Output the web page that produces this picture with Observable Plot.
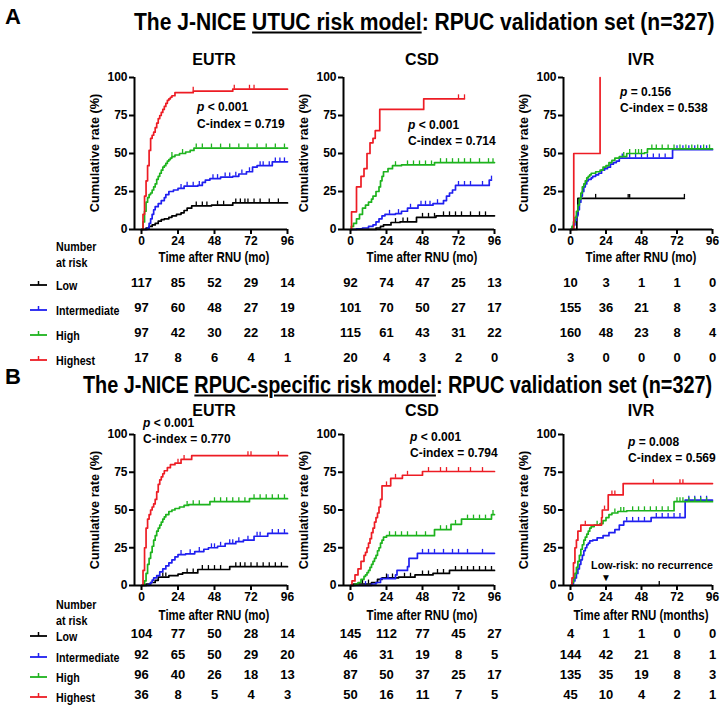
<!DOCTYPE html>
<html><head><meta charset="utf-8">
<script src="https://cdn.jsdelivr.net/npm/d3@7"></script>
<script src="https://cdn.jsdelivr.net/npm/@observablehq/plot@0.6"></script>
<style>
body{margin:0;background:#fff;}
#root{position:relative;width:721px;height:707px;overflow:hidden;background:#fff;font-family:"Liberation Sans",Arial,sans-serif;}
.lbl{position:absolute;white-space:nowrap;line-height:1;color:#000;}
svg{overflow:visible;}
</style></head><body><div id="root"></div>
<script>
// ---------- DATA ----------
const groups = ["Low", "Intermediate", "High", "Highest"];
const groupColors = ["#000000", "#1f1ff0", "#1db31d", "#ed1c24"];
const timeTicks = [0, 24, 48, 72, 96];
const rateTicks = [0, 25, 50, 75, 100];

// Panel A: UTUC risk model — curves as [month, cumulative %] (step-after)
const aEutrLow = [[0,0],[3,1],[5,2],[7,3],[9,4],[11,5.5],[13,6.5],[15,7],[18,8],[20,9],[23,10],[26,11],[28,12.5],[30,14],[33,15.5],[46,16],[60,17.5],[96,17.5]];
const aEutrInt = [[0,0],[4,1],[5,4],[6,7],[7,10],[8,13],[9,15],[11,17],[13,19],[15,21],[16,23],[18,25],[21,26],[24,27],[28,28.5],[37,29],[40,31],[42,32.5],[45,33.5],[52,34.5],[60,35],[64,36.5],[69,38],[73,41],[76,42],[86,44.5],[96,44.5]];
const aEutrHigh = [[0,0],[1,5],[2,12],[3,18],[4,21],[5,23],[6,24],[7,26],[8,28],[9,30],[10,33],[11,35],[12,37],[13,39],[14,41],[15,42],[16,43.5],[17,45],[18,46],[19,47],[20,48],[22,49],[25,50],[29,51],[32,52],[34.5,53.6],[96,53.6]];
const aEutrHighest = [[0,0],[1,10],[2,22],[3,32],[4,42],[5,52],[6,60],[7,62],[8,64],[9,67],[10,70],[11,73],[12,75],[13,77],[14,79],[15,81],[16,83],[17,85],[18,86],[19,87],[20,88],[22,90],[34,91],[60,92.3],[96,92.3]];
const aEutrCens = [[36,40,43,50,54,62,65,68,70,74,78,84,90],[26,30,34,38,47,50,55,58,62,66,71,78,80,84,88,91,94],[20,27,36,40,46,52,58,64,70,76,82,88,94],[34,61,71,74]];

const aCsdLow = [[0,0],[17,1],[20,2],[22,3],[27,4.6],[33,5],[44,8],[57,9],[96,9]];
const aCsdInt = [[0,0],[4,0.5],[8,1],[12,2],[15,3],[17,5],[19,7],[21,9],[23,10],[30,10.5],[34,12],[38,14],[45,16],[55,17],[62,19],[64,22],[66,24],[68,26],[70,29],[92.5,32.5],[94,32.5]];
const aCsdHigh = [[0,0],[0.5,2],[2,4],[4,7],[6,10],[8,14],[10,16],[12,18],[14,20],[15,22],[17,25],[19,28],[20,32],[21,35],[22,38],[25,40],[28,42],[34,42.5],[56,44],[96,44]];
const aCsdHighest = [[0,0],[0.7,11.6],[4,28],[7,35],[9,40],[11,50],[13,57],[15,60],[16.5,65],[19.5,79],[48.8,86],[76,86]];
const aCsdCens = [[30,35,38,48,52,56,62,66,70,74,80,86,90],[26,32,40,47,50,53,58,72,76,80,88,94],[30,38,42,46,50,54,60,64,68,72,76,80,86,92,95],[72,76]];

const aIvrLow = [[0,0],[4.3,10],[5,20.5],[77,20.5]];
const aIvrInt = [[0,0],[1,1],[2,3],[3,6],[4,9],[5,13],[6,18],[7,22],[8,25],[9,28],[10,30],[11,32],[12,33],[14,34],[15,35],[17,36],[19,37],[21,39],[23,40],[25,41],[27,43],[29,44],[31,45],[33,47],[69,52.5],[96,52.5]];
const aIvrHigh = [[0,0],[1,2],[2,5],[3,8],[4,12],[5,16],[6,20],[7,24],[8,28],[9,30],[10,32],[11,34],[12,35],[13,36],[14,37],[17,38],[20,39],[22,41],[24,42],[26,44],[28,45.5],[30,47],[33,48],[38,50],[50,50.5],[52,53],[96,53]];
const aIvrHighest = [[0,0],[2.2,50],[20,100]];
const aIvrCens = [[17,39,40,77],[35,40,44,48,52,56,60,64,72,76,80,84,88,92],[36,40,44,46,48,55,58,62,66,70,74,78,82,86,90,94],[]];

// Panel B: RPUC-specific risk model
const bEutrLow = [[0,0],[3,1],[6,2],[9,3.4],[11,5.6],[18,6.5],[24,7.5],[27,8.3],[37,10.6],[58,12.5],[96,12.5]];
const bEutrInt = [[0,0],[5,1],[6,2],[7,3.5],[8,5],[10,6.5],[12,9],[14,11],[16,13],[18,15],[20,17],[22,19],[24,20.5],[29,21],[35,22.5],[41,24],[44,25],[50,26],[55,27.7],[62,29],[67,30],[74,32.6],[83,34.5],[96,34.5]];
const bEutrHigh = [[0,0],[2,3],[3,8],[4,14],[5,18],[6,22],[7,26],[8,30],[9,33],[10,36],[11,38],[12,40],[13,42],[14,44],[15,45.5],[16,47],[18,49],[20,50],[22,51],[25,52],[28,53],[31,53.5],[45,55.5],[71,57.5],[96,57.5]];
const bEutrHighest = [[0,0],[1,10],[2,25],[3,38],[4,44],[5,47],[6,50],[7,52],[8,54],[9,57],[10,62],[11,67],[12,70],[13,72],[14,74],[15,76],[17,78],[19,80],[22,81],[26,83.5],[33,86],[96,86]];
const bEutrCens = [[14,16,30,34,40,44,48,52,62,65,68,72,76,80,84,88,92],[26,32,38,46,48,52,58,60,64,70,76,78,86,90,94],[30,34,38,48,52,56,60,64,68,74,78,82,86,90,94],[24,28,70,72,90]];

const bCsdLow = [[0,0],[2,1],[14,2],[18,4],[21,5],[32,5.5],[43,7],[55,8],[66,10],[96,10]];
const bCsdInt = [[0,0],[14,1],[17,2],[20,4.5],[30,7],[31,10],[38,12.5],[39,18],[44.6,21.3],[96,21.3]];
const bCsdHigh = [[0,0],[3,1],[5,2],[7,4],[9,6],[10,7],[11,8.5],[12,10],[13,12],[14,14],[15,16],[16,18],[17,20],[18,23],[19,25],[20,28],[21,30],[22,32],[24,33],[56,37],[67,40.5],[74,44],[94,47],[96,47]];
const bCsdHighest = [[0,0],[1,3],[3,7],[5,11],[7,16],[9,20],[10,22],[11,25],[12,28],[13,31],[14,35],[15,38],[16,42],[17,45],[18,48],[19,52],[20,57],[21,66],[26.8,71],[34.6,73],[48,75.5],[96,75.5]];
const bCsdCens = [[8,12,24,28,36,40,48,52,58,62,70,74,78,82,86,90,94],[10,25,48,52,56,62,68,72,78,88],[26,30,34,38,44,50,60,64,70,78,82,86,90,95],[24,30,38,52,60,64,72,80,88]];

const bIvrLow = [[0,0],[60,0]];
const bIvrInt = [[0,0],[1,1],[2,3],[3,5],[4,8],[5,11],[6,14],[7,17],[8,20],[9,23],[10,25],[11,27],[12,28],[13,29.5],[15,30],[18,31.5],[22,33],[26,35],[30,37],[33,40],[36,42.5],[54.5,45],[77.5,56.5],[96,56.5]];
const bIvrHigh = [[0,0],[1,2],[2,5],[3,8],[4,12],[5,16],[6,20],[7,24],[8,27],[9,30],[10,32],[11,34],[12,36],[13,38],[14,39],[16,40],[20,41],[22,43],[24,45],[26,47],[28,48],[32,49],[38,49.5],[70,55.5],[96,55.5]];
const bIvrHighest = [[0,0],[1,5],[2,15],[3,25],[4,30],[5,36],[7,40],[21,45],[21.5,50],[25.5,60],[35.6,67.5],[96,67.5]];
const bIvrCens = [[60],[38,42,46,50,58,62,66,70,74,80,84,88,92],[18,30,34,36,42,46,50,54,58,62,66,72,74,76,80,84,88,92],[10,23,28,30,56,74,76]];

// Numbers at risk at 0, 24, 48, 72, 96 months (Low, Intermediate, High, Highest)
const aEutrRisk = [[117,85,52,29,14],[97,60,48,27,19],[97,42,30,22,18],[17,8,6,4,1]];
const aCsdRisk = [[92,74,47,25,13],[101,70,50,27,17],[115,61,43,31,22],[20,4,3,2,0]];
const aIvrRisk = [[10,3,1,1,0],[155,36,21,8,3],[160,48,23,8,4],[3,0,0,0,0]];
const bEutrRisk = [[104,77,50,28,14],[92,65,50,29,20],[96,40,26,18,13],[36,8,5,4,3]];
const bCsdRisk = [[145,112,77,45,27],[46,31,19,8,5],[87,50,37,25,17],[50,16,11,7,5]];
const bIvrRisk = [[4,1,1,0,0],[144,42,21,8,1],[135,35,19,8,3],[45,10,4,2,1]];

const titles = ["The J-NICE ", "UTUC risk model", ": RPUC validation set (n=327)"];
const titlesB = ["The J-NICE ", "RPUC-specific risk model", ": RPUC validation set (n=327)"];
const endpoints = ["EUTR", "CSD", "IVR"];
const stats = [
  [["< 0.001", "0.719"], ["< 0.001", "0.714"], ["= 0.156", "0.538"]],
  [["< 0.001", "0.770"], ["< 0.001", "0.794"], ["= 0.008", "0.569"]]
];

// ---------- LAYOUT ----------
const root = document.getElementById("root");
const ARIAL = '"Liberation Sans",Arial,sans-serif';
const NARROW_SCALE = 0.82;
function place(html, x, y, o = {}) {
  const d = document.createElement("div");
  d.className = "lbl";
  d.innerHTML = html;
  d.style.left = x + "px";
  d.style.top = y + "px";
  d.style.fontSize = (o.size || 13) + "px";
  d.style.fontWeight = o.weight || "bold";
  d.style.fontFamily = ARIAL;
  const anchor = o.anchor || "start";
  const ax = anchor === "middle" ? "-50%" : anchor === "end" ? "-100%" : "0";
  let tf = `translate(${ax},-50%)`;
  if (o.rotate) tf += ` rotate(${o.rotate}deg)`;
  if (o.narrow) {
    tf += ` scaleX(${o.narrow === true ? NARROW_SCALE : o.narrow})`;
    d.style.transformOrigin = anchor === "middle" ? "50% 50%" : anchor === "end" ? "100% 50%" : "0 50%";
  }
  d.style.transform = tf;
  root.appendChild(d);
  return d;
}
// title condensed to span a given horizontal extent
function placeFit(html, x1, x2, y, size) {
  const d = place(html, x1, y, {size});
  const s = (x2 - x1) / d.offsetWidth;
  d.style.transformOrigin = "0 50%";
  d.style.transform = `translate(0,-50%) scaleX(${s})`;
}
function stepAt(curve, t) { let v = 0; for (const [x, y] of curve) if (x <= t) v = y; return v; }

const cols = [{axis: 134, x0: 141, x96: 287}, {axis: 343, x0: 350, x96: 494}, {axis: 563, x0: 570, x96: 712}];
const rowsLayout = [
  {top: 77, bottom: 229, risk: [286, 311, 336, 361], title: 22, tx: [134, 715], sub: 60, xt: 257, num: 246, atr: 262, letter: 17},
  {top: 434, bottom: 585, risk: [637, 658, 678, 698], title: 385, tx: [83, 712], sub: 411, xt: 615, num: 604, atr: 620, letter: 377}
];
const statPos = [
  [[197, 107, 124], [408, 125, 141], [620, 92, 108]],
  [[143, 423, 439], [410, 437, 453], [628, 442, 458]]
];
const panelData = [
  [[[aEutrLow, aEutrInt, aEutrHigh, aEutrHighest], aEutrCens, aEutrRisk],
   [[aCsdLow, aCsdInt, aCsdHigh, aCsdHighest], aCsdCens, aCsdRisk],
   [[aIvrLow, aIvrInt, aIvrHigh, aIvrHighest], aIvrCens, aIvrRisk]],
  [[[bEutrLow, bEutrInt, bEutrHigh, bEutrHighest], bEutrCens, bEutrRisk],
   [[bCsdLow, bCsdInt, bCsdHigh, bCsdHighest], bCsdCens, bCsdRisk],
   [[bIvrLow, bIvrInt, bIvrHigh, bIvrHighest], bIvrCens, bIvrRisk]]
];

rowsLayout.forEach((R, ri) => {
  place(ri === 0 ? "A" : "B", 5, R.letter, {size: 22});
  const t = ri === 0 ? titles : titlesB;
  placeFit(`${t[0]}<u>${t[1]}</u>${t[2]}`, R.tx[0], R.tx[1], R.title, 23);
  place("Number", 56, R.num, {size: 13, narrow: true});
  place("at risk", 56, R.atr, {size: 13, narrow: true});
  groups.forEach((g, gi) => {
    const y = R.risk[gi];
    const s = document.createElementNS("http://www.w3.org/2000/svg", "svg");
    s.setAttribute("width", 20); s.setAttribute("height", 10);
    s.style.position = "absolute"; s.style.left = "29px"; s.style.top = (y - 7) + "px";
    s.innerHTML = `<line x1="1" x2="18" y1="6" y2="6" stroke="${groupColors[gi]}" stroke-width="1.8"/><line x1="9.5" x2="9.5" y1="6" y2="2" stroke="${groupColors[gi]}" stroke-width="1.5"/>`;
    root.appendChild(s);
    place(g, 56, y - 1, {size: 13, narrow: true});
  });

  cols.forEach((C, ci) => {
    const [curves, cens, risk] = panelData[ri][ci];
    const svgLeft = C.axis - 45, mt = 8;
    const width = C.x96 + 9 - svgLeft;
    const mb = R.risk[3] - R.bottom + 10;
    const height = mt + (R.bottom - R.top) + mb;
    const marks = [];
    curves.forEach((cv, gi) => {
      marks.push(Plot.line(cv, {x: d => d[0], y: d => d[1], curve: "step-after", stroke: groupColors[gi], strokeWidth: 1.7}));
      marks.push(Plot.ruleX(cens[gi], {x: d => d, y1: d => stepAt(cv, d), y2: d => stepAt(cv, d) + 2.6, stroke: groupColors[gi], strokeWidth: 1.3}));
    });
    marks.push(Plot.ruleY([0], {strokeWidth: 2}));
    marks.push(Plot.ruleX([0], {dx: -(C.x0 - C.axis), strokeWidth: 2}));
    marks.push(Plot.axisX({ticks: timeTicks, tickSize: 5, tickPadding: 2, strokeWidth: 2, label: null, fontSize: 12, fontWeight: "bold"}));
    marks.push(Plot.axisY({ticks: rateTicks, tickSize: 5, tickPadding: 2, strokeWidth: 2, label: null, fontSize: 12, fontWeight: "bold"}));
    risk.forEach((vals, gi) => {
      const rows = timeTicks.map((tt, k) => ({t: tt, n: vals[k]}));
      marks.push(Plot.text(rows, {x: "t", text: "n", frameAnchor: "bottom", dy: R.risk[gi] - R.bottom, fontSize: 13, fontWeight: "bold", ariaLabel: "risk"}));
    });
    const chart = Plot.plot({
      width, height, marginLeft: 45, marginRight: 9, marginTop: mt, marginBottom: mb,
      x: {domain: [0, 96], insetLeft: C.x0 - C.axis},
      y: {domain: [0, 100]},
      style: {fontFamily: ARIAL, fontSize: "12px", fontWeight: "bold", background: "transparent", color: "#000", overflow: "visible"},
      marks
    });
    // condense the number-at-risk digits like a narrow typeface
    chart.querySelectorAll('g[aria-label="risk"] text').forEach(el => {
      let tr = el.getAttribute("transform");
      if (!tr) {
        tr = `translate(${el.getAttribute("x") || 0},${el.getAttribute("y") || 0})`;
        el.removeAttribute("x"); el.removeAttribute("y");
      }
      el.setAttribute("transform", tr + ` scale(${NARROW_SCALE},1)`);
    });
    chart.style.position = "absolute";
    chart.style.left = svgLeft + "px";
    chart.style.top = (R.top - mt) + "px";
    root.appendChild(chart);

    const cx = (C.x0 + C.x96) / 2;
    place(endpoints[ci], cx, R.sub, {size: 16, anchor: "middle"});
    place("Cumulative rate (%)", C.axis - 39, (R.top + R.bottom) / 2, {size: 12.7, anchor: "middle", rotate: -90});
    const xt = (ri === 1 && ci === 2) ? "Time after RNU (months)" : "Time after RNU (mo)";
    place(xt, cx, R.xt, {size: 14, narrow: true, anchor: "middle"});
    const sp = statPos[ri][ci];
    place(`<i>p</i> ${stats[ri][ci][0]}`, sp[0], sp[1], {size: 12});
    place(`C-index = ${stats[ri][ci][1]}`, sp[0], sp[2], {size: 12});
  });
});
place("Low-risk: no recurrence", 652, 565, {size: 10.7, anchor: "middle"});
place("&#9660;", 606, 578, {size: 10, anchor: "middle", weight: "normal"});
</script></body></html>
